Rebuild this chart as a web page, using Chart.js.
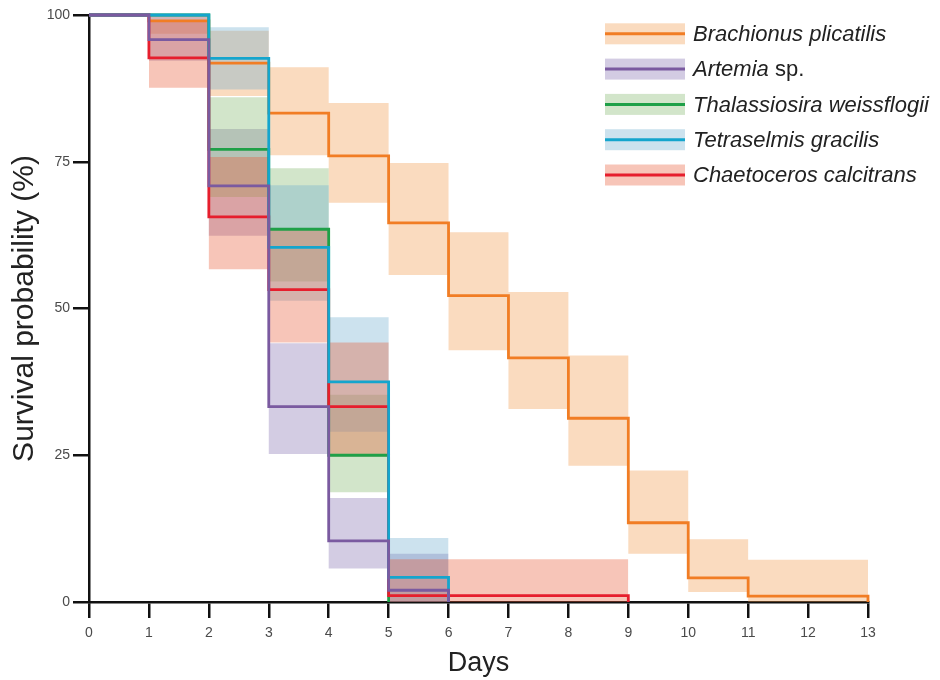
<!DOCTYPE html>
<html>
<head>
<meta charset="utf-8">
<script src="https://cdn.jsdelivr.net/npm/chart.js@4/dist/chart.umd.min.js"></script>
<style>
  html, body { margin: 0; padding: 0; background: #ffffff; }
  #wrap { width: 940px; height: 680px; }
</style>
</head>
<body>
<div id="wrap"><canvas id="c" width="940" height="680"></canvas></div>
<script>
// ---------- DATA ----------
// Brachionus plicatilis
const bpDays  = [0, 1, 2, 3, 4, 5, 6, 7, 8, 9, 10, 11, 13];
const bpSurv  = [100, 99.0, 91.8, 83.3, 76.0, 64.6, 52.2, 41.6, 31.3, 13.5, 4.1, 1.0, 0];
const bpBandDays = [1, 2, 3, 4, 5, 6, 7, 8, 9, 10, 11, 13];
const bpUpper = [100, 97.3, 91.1, 85.0, 74.8, 63.0, 52.8, 42.0, 22.4, 10.7, 7.2, 7.2];
const bpLower = [96.8, 86.2, 76.1, 68.0, 55.7, 42.9, 32.9, 23.2, 8.2, 1.7, 0, 0];

// Artemia sp.
const arDays  = [0, 1, 2, 3, 4, 5, 6];
const arSurv  = [100, 95.8, 70.9, 33.3, 10.4, 2.0, 0];
const arBandDays = [1, 2, 3, 4, 5, 6];
const arUpper = [100, 80.6, 44.1, 17.7, 8.2, 8.2];
const arLower = [92.2, 62.4, 25.2, 5.7, 0, 0];

// Thalassiosira weissflogii
const twDays  = [0, 1, 2, 3, 4, 5];
const twSurv  = [100, 100, 77.1, 63.5, 25.0, 0];
const twBandDays = [2, 3, 4, 5];
const twUpper = [86.0, 73.9, 35.3, 35.3];
const twLower = [69.0, 54.6, 18.7, 18.7];

// Tetraselmis gracilis
const tgDays  = [0, 1, 2, 3, 4, 5, 6];
const tgSurv  = [100, 100, 92.6, 60.4, 37.5, 4.2, 0];
const tgBandDays = [2, 3, 4, 5, 6];
const tgUpper = [97.9, 71.0, 48.5, 10.9, 10.9];
const tgLower = [87.3, 51.3, 29.0, 0, 0];

// Chaetoceros calcitrans
const ccDays  = [0, 1, 2, 3, 4, 5, 9];
const ccSurv  = [100, 92.7, 65.6, 53.2, 33.3, 1.1, 0];
const ccBandDays = [1, 2, 3, 4, 5, 9];
const ccUpper = [99.0, 75.8, 63.4, 44.2, 7.3, 7.3];
const ccLower = [87.6, 56.7, 44.2, 24.8, 0, 0];

const xTicks = [0, 1, 2, 3, 4, 5, 6, 7, 8, 9, 10, 11, 12, 13];
const yTicks = [0, 25, 50, 75, 100];

// ---------- STYLES ----------
const FONT = "'Liberation Sans', Arial, Helvetica, sans-serif";
const col = {
  bp: { line: '#F17D24', band: 'rgba(241,152,72,0.35)' },
  ar: { line: '#7A5AA0', band: 'rgba(129,109,175,0.35)' },
  tw: { line: '#1FA048', band: 'rgba(126,181,104,0.35)' },
  tg: { line: '#14A5CD', band: 'rgba(109,172,206,0.35)' },
  cc: { line: '#E61E2D', band: 'rgba(232,89,52,0.35)' }
};

const pts = (xs, ys) => xs.map((x, i) => ({ x: x, y: ys[i] }));

const series = [
  { key: 'bp', days: bpDays, surv: bpSurv, bd: bpBandDays, up: bpUpper, lo: bpLower, lineOrder: 4, bandOrder: 14 },
  { key: 'ar', days: arDays, surv: arSurv, bd: arBandDays, up: arUpper, lo: arLower, lineOrder: 0, bandOrder: 13 },
  { key: 'tw', days: twDays, surv: twSurv, bd: twBandDays, up: twUpper, lo: twLower, lineOrder: 3, bandOrder: 12 },
  { key: 'tg', days: tgDays, surv: tgSurv, bd: tgBandDays, up: tgUpper, lo: tgLower, lineOrder: 1, bandOrder: 11 },
  { key: 'cc', days: ccDays, surv: ccSurv, bd: ccBandDays, up: ccUpper, lo: ccLower, lineOrder: 2, bandOrder: 10 }
];

const datasets = [];
series.forEach(s => {
  datasets.push({
    label: s.key + '-upper',
    data: pts(s.bd, s.up),
    stepped: 'before',
    borderWidth: 0,
    borderColor: 'rgba(0,0,0,0)',
    backgroundColor: col[s.key].band,
    pointRadius: 0,
    fill: '+1',
    order: s.bandOrder
  });
  datasets.push({
    label: s.key + '-lower',
    data: pts(s.bd, s.lo),
    stepped: 'before',
    borderWidth: 0,
    borderColor: 'rgba(0,0,0,0)',
    backgroundColor: 'rgba(0,0,0,0)',
    pointRadius: 0,
    fill: false,
    order: s.bandOrder
  });
});
series.forEach(s => {
  datasets.push({
    label: s.key,
    data: pts(s.days, s.surv),
    stepped: 'before',
    borderWidth: 2.8,
    borderColor: col[s.key].line,
    backgroundColor: col[s.key].line,
    pointRadius: 0,
    fill: false,
    clip: 4,
    borderCapStyle: 'butt',
    borderJoinStyle: 'miter',
    order: s.lineOrder
  });
});

// ---------- LEGEND (custom, allows mixed italic/normal text) ----------
const legendItems = [
  { key: 'bp', parts: [['Brachionus plicatilis', true]] },
  { key: 'ar', parts: [['Artemia', true], [' sp.', false]] },
  { key: 'tw', parts: [['Thalassiosira weissflogii', true]] },
  { key: 'tg', parts: [['Tetraselmis gracilis', true]] },
  { key: 'cc', parts: [['Chaetoceros calcitrans', true]] }
];

const kmLegend = {
  id: 'kmLegend',
  afterDraw(chart) {
    const ctx = chart.ctx;
    ctx.save();
    const x0 = 605, w = 80, h = 21, cy0 = 33.8, gap = 35.3, tx = 693;
    legendItems.forEach((it, i) => {
      const cy = cy0 + i * gap;
      ctx.fillStyle = col[it.key].band;
      ctx.fillRect(x0, cy - h / 2, w, h);
      ctx.strokeStyle = col[it.key].line;
      ctx.lineWidth = 3;
      ctx.beginPath();
      ctx.moveTo(x0, cy);
      ctx.lineTo(x0 + w, cy);
      ctx.stroke();
      let x = tx;
      ctx.fillStyle = '#222222';
      ctx.textBaseline = 'middle';
      ctx.textAlign = 'left';
      it.parts.forEach(p => {
        ctx.font = (p[1] ? 'italic ' : '') + '22px ' + FONT;
        ctx.fillText(p[0], x, cy + 1);
        x += ctx.measureText(p[0]).width;
      });
    });
    ctx.restore();
  }
};

// ---------- CHART ----------
new Chart(document.getElementById('c'), {
  type: 'line',
  data: { datasets: datasets },
  plugins: [kmLegend],
  options: {
    responsive: false,
    animation: false,
    devicePixelRatio: 1,
    layout: { padding: { top: 15, right: 72, left: 0, bottom: 0 } },
    plugins: {
      legend: { display: false },
      tooltip: { enabled: false }
    },
    elements: { point: { radius: 0 } },
    scales: {
      x: {
        type: 'linear',
        min: 0,
        max: 13,
        afterBuildTicks: (scale) => { scale.ticks = xTicks.map(v => ({ value: v })); },
        ticks: {
          autoSkip: false,
          maxRotation: 0,
          color: '#4a4a4a',
          font: { family: FONT, size: 14 },
          padding: 7
        },
        grid: {
          drawOnChartArea: false,
          drawTicks: true,
          tickLength: 16,
          color: '#111111',
          lineWidth: 2.5
        },
        border: { display: true, color: '#111111', width: 2.5 },
        title: {
          display: true,
          text: 'Days',
          color: '#222222',
          font: { family: FONT, size: 27 },
          padding: { top: 0, bottom: 0 }
        },
        afterFit: (scale) => { scale.height = 78; }
      },
      y: {
        type: 'linear',
        min: 0,
        max: 100,
        afterBuildTicks: (scale) => { scale.ticks = yTicks.map(v => ({ value: v })); },
        ticks: {
          color: '#4a4a4a',
          font: { family: FONT, size: 14 },
          padding: 3
        },
        grid: {
          drawOnChartArea: false,
          drawTicks: true,
          tickLength: 16,
          color: '#111111',
          lineWidth: 2.5
        },
        border: { display: true, color: '#111111', width: 2.5 },
        title: {
          display: true,
          text: 'Survival probability (%)',
          color: '#222222',
          font: { family: FONT, size: 30 },
          padding: { top: 7, bottom: 0 }
        },
        afterFit: (scale) => { scale.width = 89; }
      }
    }
  }
});
</script>
</body>
</html>
